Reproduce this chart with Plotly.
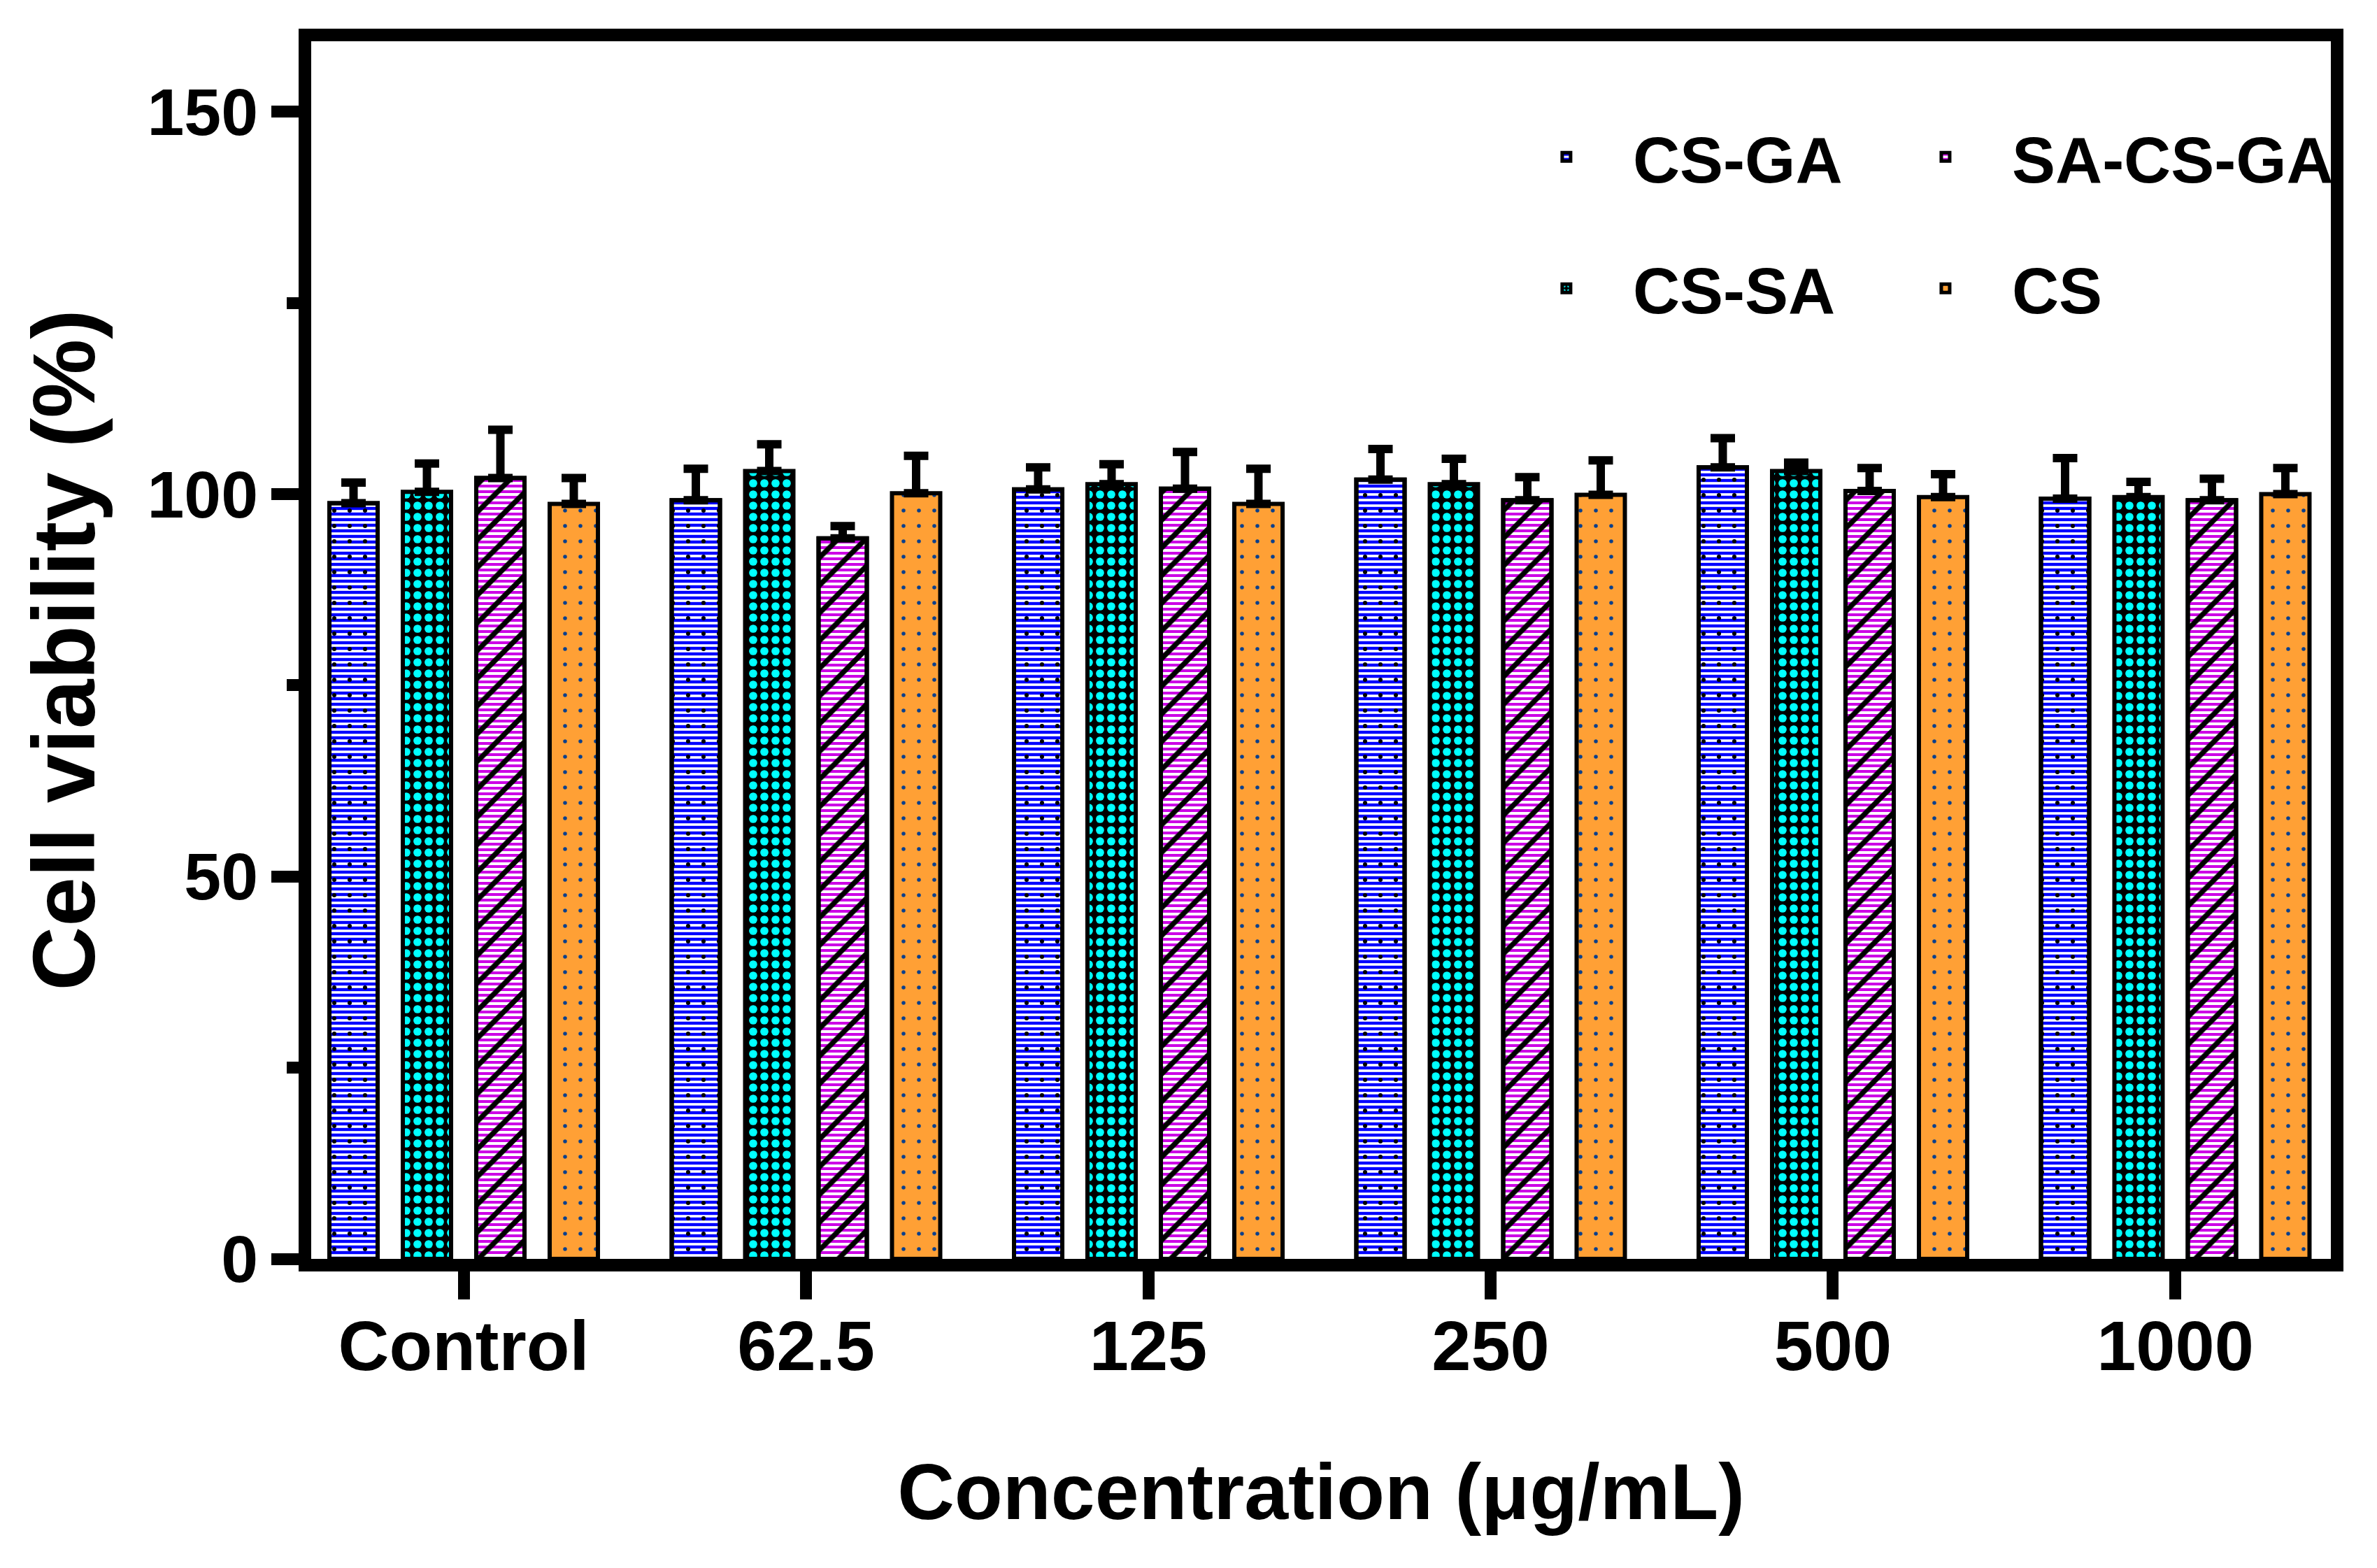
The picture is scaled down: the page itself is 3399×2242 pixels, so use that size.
import plotly.graph_objects as go

# ---------------- data ----------------
categories = ["Control", "62.5", "125", "250", "500", "1000"]
series_names = ["CS-GA", "CS-SA", "SA-CS-GA", "CS"]

cs_ga = [98.8, 99.2, 100.6, 101.9, 103.5, 99.4]
cs_ga_err = [2.7, 4.1, 2.9, 4.0, 3.8, 5.3]
cs_sa = [100.3, 103.0, 101.3, 101.3, 103.0, 99.6]
cs_sa_err = [3.7, 3.5, 2.6, 3.3, 1.1, 2.0]
sa_cs_ga = [102.1, 94.2, 100.7, 99.2, 100.4, 99.2]
sa_cs_ga_err = [6.3, 1.6, 4.8, 3.0, 3.0, 2.8]
cs = [98.7, 100.1, 98.7, 99.9, 99.6, 100.0]
cs_err = [3.4, 4.9, 4.6, 4.5, 3.0, 3.4]

y_ticks = [0, 50, 100, 150]
y_minor_ticks = [25, 75, 125]

# ---------------- style ----------------
FONT = "Liberation Sans"
BAR_W = 0.141
STEP = 0.2145
LINE_W = 6
CLEAR = "rgba(0,0,0,0)"

values = [cs_ga, cs_sa, sa_cs_ga, cs]
errors = [cs_ga_err, cs_sa_err, sa_cs_ga_err, cs_err]
legends = ["legend", "legend", "legend2", "legend2"]

base_patterns = [
    dict(shape="-", fgcolor="#0000ff", bgcolor="#ffffff", size=8, solidity=0.55),
    dict(shape=".", fgcolor="#00ffff", bgcolor="#000000", size=16, solidity=0.42),
    dict(shape="-", fgcolor="#cc00e6", bgcolor="#ffffff", size=8, solidity=0.5),
    dict(shape=".", fgcolor="#0a3f8c", bgcolor="#ffa035", size=22, solidity=0.05),
]
base_colors = ["#ffffff", "#000000", "#ffffff", "#ffa035"]
# extra overlay pattern layers (None = no layer)
top_patterns = [
    dict(shape=".", fgcolor="#000000", bgcolor=CLEAR, size=22, solidity=0.06),
    None,
    dict(shape="/", fgcolor="#000000", bgcolor=CLEAR, size=28, solidity=0.26),
    None,
]

fig = go.Figure()
for i, name in enumerate(series_names):
    off = (i - 1.5) * STEP - BAR_W / 2
    fig.add_trace(go.Bar(
        x=categories, y=values[i], name=name,
        width=BAR_W, offset=off,
        legend=legends[i], legendgroup=name,
        marker=dict(color=base_colors[i],
                    line=dict(color="black", width=LINE_W),
                    pattern=dict(fillmode="replace", **base_patterns[i])),
        error_y=dict(type="data", symmetric=False, array=errors[i],
                     arrayminus=[0] * len(errors[i]),
                     color="black", thickness=12, width=17.5),
    ))
    if top_patterns[i] is not None:
        fig.add_trace(go.Bar(
            x=categories, y=values[i], name=name,
            width=BAR_W, offset=off, showlegend=False,
            legendgroup=name + "_layer",
            marker=dict(color=CLEAR,
                        line=dict(color="black", width=LINE_W),
                        pattern=dict(fillmode="replace", **top_patterns[i])),
        ))

legend_common = dict(
    xanchor="left", yanchor="top", y=0.9435,
    font=dict(family=FONT, size=93, color="black", weight="bold"),
    bgcolor=CLEAR, itemwidth=180, tracegroupgap=64, traceorder="grouped",
)

fig.update_layout(
    width=3399, height=2242,
    margin=dict(l=445, r=66, t=59, b=442, pad=0),
    paper_bgcolor="white", plot_bgcolor="white",
    barmode="overlay",
    showlegend=True,
    legend=dict(x=0.5886, **legend_common),
    legend2=dict(x=0.7763, **legend_common),
    font=dict(family=FONT, color="black", weight="bold"),
)

fig.update_xaxes(
    type="category", categoryorder="array", categoryarray=categories,
    range=[-0.4454, 5.4546],
    showline=True, linewidth=18, linecolor="black", mirror=True,
    ticks="outside", ticklen=40, tickwidth=17, tickcolor="black",
    ticklabelstandoff=-20,
    showgrid=False, zeroline=False,
    tickfont=dict(family=FONT, size=101, color="black", weight="bold"),
    title=dict(text="Concentration (μg/mL)", standoff=122,
               font=dict(family=FONT, size=113, color="black", weight="bold")),
)
fig.update_yaxes(
    range=[0, 159.2],
    tickvals=y_ticks,
    showline=True, linewidth=18, linecolor="black", mirror=True,
    ticks="outside", ticklen=39, tickwidth=17, tickcolor="black",
    minor=dict(tickvals=y_minor_ticks, ticks="outside", ticklen=17,
               tickwidth=17, tickcolor="black", showgrid=False),
    showgrid=False, zeroline=False,
    tickfont=dict(family=FONT, size=95, color="black", weight="bold"),
    title=dict(text="Cell viability (%)", standoff=40,
               font=dict(family=FONT, size=127, color="black", weight="bold")),
)

fig.write_html("out.html", config={"displayModeBar": False},
               post_script="document.body.style.margin='0';")
